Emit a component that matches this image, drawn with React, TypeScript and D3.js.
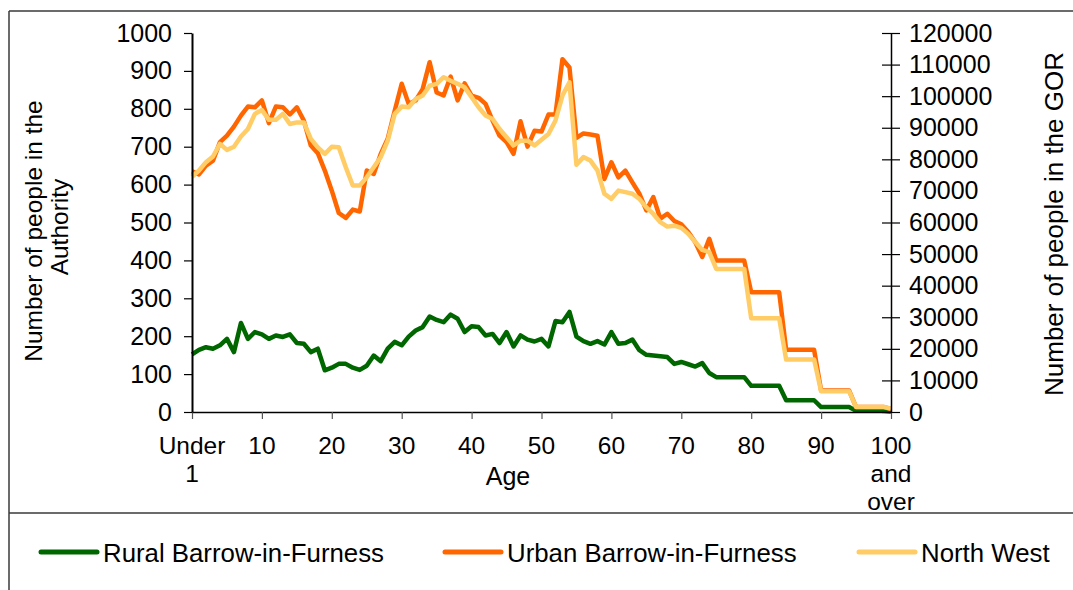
import React, { useEffect, useRef } from 'react';
import * as d3 from 'd3';

// single year of age, 0 ("Under 1") .. 100 ("100 and over")
const rural = [
  152, 164, 171, 167, 176, 193, 158, 235, 193, 211,
  205, 193, 202, 198, 205, 182, 180, 158, 167, 110,
  117, 127, 127, 117, 111, 122, 149, 134, 167, 185,
  176, 199, 215, 224, 252, 243, 237, 257, 246, 211,
  226, 224, 202, 206, 182, 211, 173, 202, 191, 186,
  193, 173, 240, 237, 264, 199, 187, 180, 187, 178,
  211, 180, 182, 191, 163, 151, 149, 147, 145, 127,
  132, 126, 120, 129, 103, 92, 92, 92, 92, 92,
  69, 69, 69, 69, 69, 31, 31, 31, 31, 31,
  13, 13, 13, 13, 13, 3, 3, 3, 3, 3,
  1,
];

const urban = [
  635, 627, 650, 663, 712, 729, 753, 782, 806, 804,
  822, 762, 806, 804, 785, 804, 769, 703, 683, 637,
  584, 525, 512, 534, 529, 637, 628, 681, 721, 795,
  866, 813, 822, 852, 923, 843, 835, 885, 822, 867,
  835, 829, 813, 769, 729, 712, 681, 767, 700, 742,
  740, 785, 785, 931, 909, 723, 735, 732, 729, 615,
  659, 619, 637, 606, 576, 532, 567, 510, 523, 504,
  495, 475, 448, 409, 457, 400, 400, 400, 400, 400,
  316, 316, 316, 316, 316, 164, 164, 164, 164, 164,
  57, 57, 57, 57, 57, 13, 13, 13, 13, 13,
  8,
];

const northWest = [
  74500, 76450, 79100, 80900, 84900, 83000, 84000, 87200, 89600, 94400,
  95600, 92500, 92500, 94400, 91200, 91700, 91700, 86500, 83800, 81700,
  84000, 83800, 77500, 71700, 71700, 74300, 77500, 80700, 85900, 94400,
  96700, 96500, 99100, 100200, 103300, 103900, 106000, 104900, 103900, 102800,
  99700, 96500, 93900, 92800, 89600, 87000, 84400, 85900, 85900, 84400,
  86200, 88000, 92300, 100200, 104400, 78300, 80700, 79600, 76500, 69100,
  67500, 70100, 69600, 69100, 67500, 64800, 62700, 60100, 58700, 59000,
  58300, 56400, 53800, 51300, 50600, 45300, 45300, 45300, 45300, 45300,
  29700, 29700, 29700, 29700, 29700, 16600, 16600, 16600, 16600, 16600,
  6600, 6600, 6600, 6600, 6600, 1600, 1600, 1600, 1600, 1600,
  1050,
];

const tickAges = [0, 10, 20, 30, 40, 50, 60, 70, 80, 90, 100];
const tickLabels = [
  ['Under', '1'], ['10'], ['20'], ['30'], ['40'], ['50'],
  ['60'], ['70'], ['80'], ['90'], ['100', 'and', 'over'],
];
const leftTicks = [0, 100, 200, 300, 400, 500, 600, 700, 800, 900, 1000];
const rightTicks = [0, 10000, 20000, 30000, 40000, 50000, 60000, 70000, 80000, 90000, 100000, 110000, 120000];

const seriesNames = ['Rural Barrow-in-Furness', 'Urban Barrow-in-Furness', 'North West'];
const colors = ['#006600', '#ff6600', '#ffcc66'];

const FONT = '"Liberation Sans", Arial, sans-serif';

export default function App() {
  const ref = useRef<SVGSVGElement>(null);

  useEffect(() => {
    const svg = d3.select(ref.current);
    svg.selectAll('*').remove();

    const left = 192, right = 891, top = 33, bottom = 412;

    const x = d3.scaleLinear().domain([0, 100]).range([left, right]);
    const yL = d3.scaleLinear().domain([0, 1000]).range([bottom, top]);
    const yR = d3.scaleLinear().domain([0, 120000]).range([bottom, top]);

    // outer frame + legend separator
    const frame = svg.append('g').attr('stroke', '#3a3a3a').attr('stroke-width', 1.5);
    frame.append('line').attr('x1', 9).attr('x2', 1073).attr('y1', 11).attr('y2', 11);
    frame.append('line').attr('x1', 9).attr('x2', 9).attr('y1', 11).attr('y2', 590);
    frame.append('line').attr('x1', 9).attr('x2', 1073).attr('y1', 513).attr('y2', 513);

    // lines
    const ages = d3.range(rural.length);
    const lineL = d3.line<number>().x((d, i) => x(ages[i])).y(d => yL(d));
    const lineR = d3.line<number>().x((d, i) => x(ages[i])).y(d => yR(d));

    const plot = svg.append('g')
      .attr('fill', 'none')
      .attr('stroke-width', 4.5)
      .attr('stroke-linejoin', 'round');
    plot.append('path').attr('d', lineL(rural)).attr('stroke', colors[0]);
    plot.append('path').attr('d', lineL(urban)).attr('stroke', colors[1]);
    plot.append('path').attr('d', lineR(northWest)).attr('stroke', colors[2]);

    // x axis
    const xAxis = svg.append('g')
      .attr('transform', `translate(0,${bottom})`)
      .call(d3.axisBottom(x).tickValues(tickAges).tickSize(7).tickSizeOuter(0).tickFormat(() => ''));
    xAxis.select('.domain').attr('stroke', '#000').attr('stroke-width', 1.5);
    xAxis.selectAll('.tick line').attr('stroke', '#555').attr('stroke-width', 1.2);

    const xLab = svg.append('g')
      .attr('font-family', FONT)
      .attr('font-size', 24.5)
      .attr('text-anchor', 'middle')
      .attr('fill', '#000');
    tickAges.forEach((a, i) => {
      const t = xLab.append('text').attr('x', x(a)).attr('y', 454);
      tickLabels[i].forEach((s, j) => {
        t.append('tspan').attr('x', x(a)).attr('dy', j === 0 ? 0 : 28).text(s);
      });
    });

    // left axis
    const yAxisL = svg.append('g')
      .attr('transform', `translate(${left},0)`)
      .call(d3.axisLeft(yL).tickValues(leftTicks).tickSize(8).tickSizeOuter(0).tickPadding(12).tickFormat(d3.format('d')));
    yAxisL.select('.domain').attr('stroke', '#000').attr('stroke-width', 2);
    yAxisL.selectAll('.tick line').attr('stroke', '#000').attr('stroke-width', 1.2);
    yAxisL.selectAll('text').attr('font-family', FONT).attr('font-size', 25).attr('fill', '#000');

    // right axis
    const yAxisR = svg.append('g')
      .attr('transform', `translate(${right},0)`)
      .call(d3.axisRight(yR).tickValues(rightTicks).tickSize(9).tickSizeOuter(0).tickPadding(9).tickFormat(d3.format('d')));
    yAxisR.select('.domain').attr('stroke', '#000').attr('stroke-width', 1.5);
    yAxisR.selectAll('.tick line').attr('x1', -9).attr('stroke', '#000').attr('stroke-width', 1.2);
    yAxisR.selectAll('text').attr('font-family', FONT).attr('font-size', 25).attr('fill', '#000');

    // titles
    const titles = svg.append('g')
      .attr('font-family', FONT)
      .attr('text-anchor', 'middle')
      .attr('fill', '#000');
    titles.append('text').attr('transform', 'translate(42,231) rotate(-90)').attr('font-size', 24.5).text('Number of people in the');
    titles.append('text').attr('transform', 'translate(68,227) rotate(-90)').attr('font-size', 24.5).text('Authority');
    titles.append('text').attr('transform', 'translate(1063,224) rotate(-90)').attr('font-size', 26).text('Number of people in the GOR');
    titles.append('text').attr('x', 508).attr('y', 485).attr('font-size', 25).text('Age');

    // legend
    const legendX = [41, 445, 859];
    const leg = svg.append('g').attr('font-family', FONT).attr('font-size', 25.8);
    seriesNames.forEach((name, i) => {
      leg.append('line')
        .attr('x1', legendX[i]).attr('x2', legendX[i] + 56)
        .attr('y1', 552).attr('y2', 552)
        .attr('stroke', colors[i]).attr('stroke-width', 5).attr('stroke-linecap', 'round');
      leg.append('text').attr('x', legendX[i] + 62).attr('y', 562).attr('fill', '#000').text(name);
    });
  }, []);

  return (
    <svg ref={ref} width={1073} height={590}
      style={{ position: 'absolute', left: 0, top: 0, background: '#fff' }} />
  );
}
